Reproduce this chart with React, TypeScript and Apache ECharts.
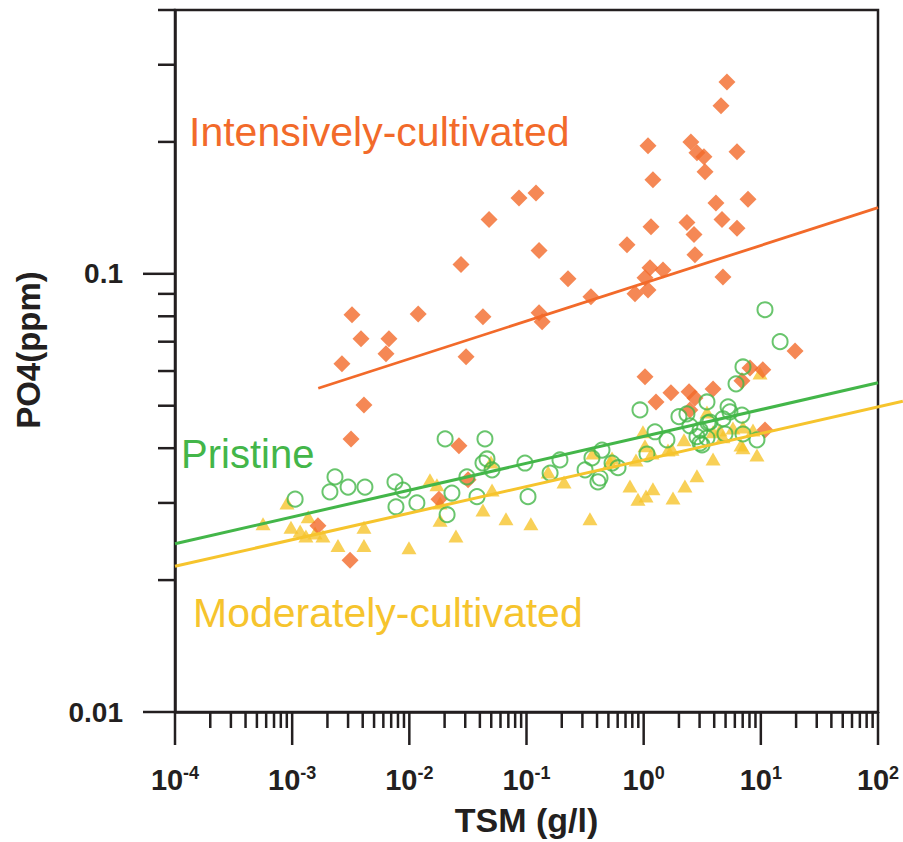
import React, { useEffect, useRef } from "react";
import * as echarts from "echarts";

// ---------- data (TSM g/l, PO4 ppm) ----------
const intensivelyCultivated: [number, number][] = [
  [5.14, 0.274], [4.57, 0.242], [1.089, 0.196], [2.53, 0.2], [2.85, 0.189],
  [3.27, 0.185], [6.26, 0.19], [3.34, 0.171], [1.2, 0.164], [4.14, 0.145],
  [7.77, 0.148], [4.66, 0.133], [6.26, 0.127], [1.155, 0.128], [2.34, 0.131],
  [2.69, 0.123], [2.74, 0.1105], [4.75, 0.0984], [0.1205, 0.153], [0.0863, 0.149],
  [0.0479, 0.133], [0.128, 0.113], [0.0276, 0.105], [0.721, 0.1165], [0.226, 0.0974],
  [1.132, 0.1032], [1.462, 0.102], [1.026, 0.0979], [1.089, 0.0919], [0.843, 0.09],
  [0.355, 0.0886], [0.0425, 0.0798], [0.128, 0.0815], [0.136, 0.0777], [0.0305, 0.0647],
  [1.026, 0.0582], [1.274, 0.051], [1.71, 0.0535], [2.44, 0.0538], [2.74, 0.0521],
  [3.91, 0.0546], [2.48, 0.0489], [6.9, 0.057], [8.08, 0.061], [10.4, 0.0604],
  [10.85, 0.044], [19.6, 0.0667], [0.0265, 0.0405], [0.0317, 0.0339], [0.0179, 0.0306],
  [0.00324, 0.0806], [0.0119, 0.081], [0.00387, 0.0711], [0.0067, 0.0711], [0.00632, 0.0657],
  [0.00266, 0.0623], [0.0041, 0.0502], [0.00318, 0.042], [0.00166, 0.0266], [0.00312, 0.0222],
];

const pristine: [number, number][] = [
  [0.00106, 0.0306], [0.00232, 0.0344], [0.0021, 0.0318], [0.003, 0.0326], [0.00418, 0.0326],
  [0.00754, 0.0335], [0.00883, 0.0321], [0.00769, 0.0294], [0.0116, 0.03], [0.0202, 0.042],
  [0.0231, 0.0316], [0.021, 0.0282], [0.0442, 0.042], [0.046, 0.0378], [0.0425, 0.037],
  [0.0508, 0.0357], [0.031, 0.0344], [0.0378, 0.031], [0.103, 0.031], [0.097, 0.037],
  [0.159, 0.0351], [0.193, 0.0376], [0.316, 0.0357], [0.362, 0.038], [0.441, 0.0396],
  [0.407, 0.0335], [0.424, 0.0342], [0.537, 0.037], [0.604, 0.0361], [0.93, 0.0489],
  [1.067, 0.0388], [1.249, 0.0436], [1.58, 0.0418], [2.0, 0.0472], [2.34, 0.0479],
  [2.48, 0.045], [3.03, 0.044], [3.47, 0.051], [3.54, 0.0457], [4.75, 0.0467],
  [5.25, 0.0497], [6.14, 0.0561], [3.15, 0.0407], [3.47, 0.0422], [4.94, 0.0431],
  [7.04, 0.0613], [5.45, 0.0484], [6.9, 0.0476], [3.68, 0.0459], [2.85, 0.0425],
  [7.04, 0.0431], [9.27, 0.0418], [3.03, 0.0411], [10.85, 0.0828], [14.6, 0.07],
];

const moderatelyCultivated: [number, number][] = [
  [0.000564, 0.0269], [0.000903, 0.03], [0.000977, 0.0264], [0.00117, 0.0259], [0.00131, 0.0252],
  [0.00137, 0.0279], [0.00157, 0.0256], [0.00183, 0.0252], [0.00246, 0.024], [0.0041, 0.0264],
  [0.0041, 0.024], [0.00993, 0.0237], [0.015, 0.0339], [0.0172, 0.033], [0.0183, 0.03],
  [0.0183, 0.0274], [0.025, 0.0252], [0.0425, 0.0289], [0.0508, 0.0321], [0.0668, 0.0276],
  [0.109, 0.0269], [0.153, 0.0353], [0.209, 0.0335], [0.348, 0.0276], [0.369, 0.039],
  [0.516, 0.0372], [0.764, 0.0328], [0.86, 0.0376], [0.894, 0.0306], [1.047, 0.0311],
  [1.2, 0.0323], [0.986, 0.0436], [1.026, 0.0405], [1.78, 0.0308], [2.25, 0.0328],
  [2.85, 0.0346], [3.91, 0.0378], [2.21, 0.0418], [1.745, 0.0398], [3.47, 0.0484],
  [3.91, 0.0436], [4.75, 0.0425], [1.178, 0.039], [1.613, 0.0396], [4.48, 0.044],
  [5.78, 0.0445], [7.04, 0.0447], [7.04, 0.0401], [9.27, 0.0386], [9.84, 0.0594],
  [0.537, 0.038], [6.77, 0.0407], [8.57, 0.044], [0.0498, 0.0372],
];

// fitted trend lines (end points)
const intensiveFit: [number, number][] = [[0.00167, 0.0548], [100, 0.1416]];
const pristineFit: [number, number][] = [[0.0001, 0.0242], [100, 0.0564]];
const moderateFit: [number, number][] = [[0.0001, 0.0215], [163, 0.0512]];

// axes
const X_MIN = 1e-4;
const X_MAX = 100;
const Y_MIN = 0.01;
const Y_MAX = 0.4;
const xDecades = [1e-4, 1e-3, 1e-2, 1e-1, 1, 10];
const tickMultipliers = [1, 2, 3, 4, 5, 6, 7, 8, 9];
const yTickValues = [0.01, 0.02, 0.03, 0.04, 0.05, 0.06, 0.07, 0.08, 0.09, 0.1, 0.2, 0.3, 0.4];
const yTickLabels: Record<string, string> = { "0.01": "0.01", "0.1": "0.1" };

const xTickValues: number[] = [];
xDecades.forEach((d) => tickMultipliers.forEach((m) => xTickValues.push(d * m)));
xTickValues.push(X_MAX);

const ORANGE = "#F26A2A";
const GREEN = "#43B649";
const YELLOW = "#F6C42D";
const AXIS = "#231F20";
const FONT = "'Liberation Sans', Arial, Helvetica, sans-serif";

const isDecade = (v: number) => Math.abs(Math.log10(v) - Math.round(Math.log10(v))) < 1e-6;

export default function App() {
  const ref = useRef<HTMLDivElement>(null);

  useEffect(() => {
    if (!ref.current) return;
    const chart = echarts.init(ref.current, undefined, { renderer: "svg" });

    const option: any = {
      animation: false,
      backgroundColor: "#ffffff",
      grid: {
        left: 175,
        top: 10,
        width: 703,
        height: 702,
        show: true,
        borderColor: AXIS,
        borderWidth: 2.5,
        backgroundColor: "transparent",
      },
      xAxis: {
        type: "log",
        logBase: 10,
        min: X_MIN,
        max: X_MAX,
        splitLine: { show: false },
        axisLine: { show: true, lineStyle: { color: AXIS, width: 2.5 } },
        axisTick: { show: false },
        axisLabel: {
          margin: 52,
          formatter: (v: number) => `{b|10}{s|${Math.round(Math.log10(v))}}`,
          rich: {
            b: { fontFamily: FONT, fontSize: 29, fontWeight: "bold", color: AXIS, lineHeight: 32 },
            s: { fontFamily: FONT, fontSize: 18, fontWeight: "bold", color: AXIS, lineHeight: 18, verticalAlign: "top" },
          },
        },
        name: "TSM (g/l)",
        nameLocation: "middle",
        nameGap: 91,
        nameTextStyle: { fontFamily: FONT, fontSize: 34, fontWeight: "bold", color: AXIS },
      },
      yAxis: {
        type: "log",
        logBase: 10,
        min: Y_MIN,
        max: Y_MAX,
        splitLine: { show: false },
        axisLine: { show: true, lineStyle: { color: AXIS, width: 2.5 } },
        axisTick: { show: false },
        axisLabel: {
          margin: 52,
          fontFamily: FONT,
          fontSize: 28,
          fontWeight: "bold",
          color: AXIS,
          padding: [0, 0, 6, 0],
          formatter: (v: number) => {
            for (const k of Object.keys(yTickLabels)) {
              if (Math.abs(v - parseFloat(k)) < 1e-9) return yTickLabels[k];
            }
            return "";
          },
        },
      },
      graphic: [
        {
          type: "text",
          x: 28,
          y: 350,
          rotation: Math.PI / 2,
          style: {
            text: "PO4(ppm)",
            fontFamily: FONT,
            fontSize: 33,
            fontWeight: "bold",
            fill: AXIS,
            align: "center",
            verticalAlign: "middle",
          },
        },
        {
          type: "text",
          x: 189,
          y: 132,
          style: { text: "Intensively-cultivated", fontFamily: FONT, fontSize: 41, fill: ORANGE, align: "left", verticalAlign: "middle" },
        },
        {
          type: "text",
          x: 181,
          y: 454,
          style: { text: "Pristine", fontFamily: FONT, fontSize: 40, fill: GREEN, align: "left", verticalAlign: "middle" },
        },
        {
          type: "text",
          x: 193,
          y: 613,
          style: { text: "Moderately-cultivated", fontFamily: FONT, fontSize: 41, fill: YELLOW, align: "left", verticalAlign: "middle" },
        },
      ],
      series: [
        {
          type: "custom",
          silent: true,
          clip: false,
          data: xTickValues.map((v) => [v, Y_MIN]),
          renderItem: (_p: any, api: any) => {
            const v = api.value(0);
            const pt = api.coord([v, Y_MIN]);
            const len = isDecade(v) ? 33 : 16;
            return {
              type: "line",
              shape: { x1: pt[0], y1: pt[1], x2: pt[0], y2: pt[1] + len },
              style: { stroke: AXIS, lineWidth: 2.5 },
            };
          },
        },
        {
          type: "custom",
          silent: true,
          clip: false,
          data: yTickValues.map((v) => [X_MIN, v]),
          renderItem: (_p: any, api: any) => {
            const v = api.value(1);
            const pt = api.coord([X_MIN, v]);
            const len = isDecade(v) ? 32 : 17;
            return {
              type: "line",
              shape: { x1: pt[0] - len, y1: pt[1], x2: pt[0], y2: pt[1] },
              style: { stroke: AXIS, lineWidth: 2.5 },
            };
          },
        },
        {
          name: "Moderately-cultivated",
          type: "scatter",
          data: moderatelyCultivated,
          symbol: "triangle",
          symbolSize: [15, 13],
          itemStyle: { color: YELLOW },
          z: 3,
        },
        {
          name: "Intensively-cultivated",
          type: "scatter",
          data: intensivelyCultivated,
          symbol: "diamond",
          symbolSize: 17,
          itemStyle: { color: ORANGE },
          z: 4,
        },
        {
          name: "Pristine",
          type: "scatter",
          data: pristine,
          symbol: "circle",
          symbolSize: 15,
          itemStyle: { color: "rgba(0,0,0,0)", borderColor: GREEN, borderWidth: 2 },
          z: 5,
        },
        {
          type: "line",
          data: intensiveFit,
          showSymbol: false,
          symbol: "none",
          lineStyle: { color: ORANGE, width: 2.8 },
          z: 6,
        },
        {
          type: "line",
          data: pristineFit,
          showSymbol: false,
          symbol: "none",
          lineStyle: { color: GREEN, width: 3 },
          z: 6,
        },
        {
          // moderately-cultivated fit runs past the right frame, so it is drawn unclipped
          type: "custom",
          silent: true,
          clip: false,
          z: 6,
          encode: { x: [0, 2], y: [1, 3] },
          data: [[moderateFit[0][0], moderateFit[0][1], moderateFit[1][0], moderateFit[1][1]]],
          renderItem: (_p: any, api: any) => {
            const a = api.coord([api.value(0), api.value(1)]);
            const b = api.coord([api.value(2), api.value(3)]);
            return {
              type: "line",
              shape: { x1: a[0], y1: a[1], x2: b[0], y2: b[1] },
              style: { stroke: YELLOW, lineWidth: 3 },
            };
          },
        },
      ],
    };

    chart.setOption(option);
    return () => chart.dispose();
  }, []);

  return (
    <div
      ref={ref}
      style={{ position: "absolute", left: 0, top: 0, width: 903, height: 842, background: "#fff" }}
    />
  );
}
